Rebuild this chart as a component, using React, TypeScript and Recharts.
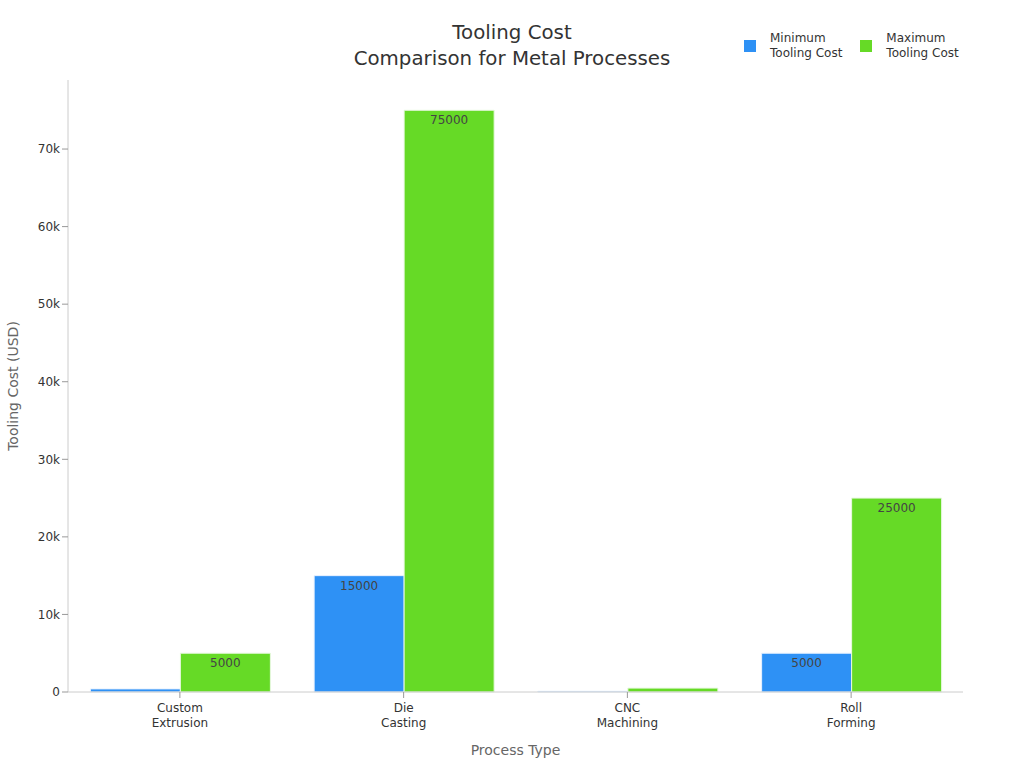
import { BarChart, Bar, XAxis, YAxis, LabelList } from 'recharts'

const processes = ['Custom\nExtrusion', 'Die\nCasting', 'CNC\nMachining', 'Roll\nForming']
const minCost = [400, 15000, 100, 5000]
const maxCost = [5000, 75000, 500, 25000]
const yTicks = [0, 10000, 20000, 30000, 40000, 50000, 60000, 70000]

const data = processes.map((p, i) => ({ process: p, min: minCost[i], max: maxCost[i] }))

const font = 'DejaVu Sans, sans-serif'

const CatTick = (props: any) => {
  const { x, y, payload } = props
  const lines = String(payload.value).split('\n')
  return (
    <g transform={`translate(${x},${y})`}>
      {lines.map((l, i) => (
        <text key={i} x={0} y={12 + i * 15} textAnchor="middle" fill="#333" fontSize={12} fontFamily={font}>
          {l}
        </text>
      ))}
    </g>
  )
}

const BarLabel = (props: any) => {
  const { x, y, width, height, value } = props
  if (height < 14) return null
  return (
    <text x={x + width / 2} y={y + 14} textAnchor="middle" fill="#444" fontSize={12} fontFamily={font}>
      {value}
    </text>
  )
}

const fmtK = (v: number) => (v === 0 ? '0' : `${v / 1000}k`)

export default function App() {
  return (
    <div style={{ position: 'absolute', left: 0, top: 0, width: 1024, height: 768, fontFamily: font }}>
      <div
        style={{
          position: 'absolute',
          top: 20,
          left: 0,
          width: 1024,
          textAlign: 'center',
          fontSize: 19.8,
          lineHeight: '26px',
          color: '#333',
        }}
      >
        Tooling Cost
        <br />
        Comparison for Metal Processes
      </div>
      <div style={{ position: 'absolute', top: 31, left: 744, display: 'flex', fontSize: 12, color: '#333', lineHeight: '15px' }}>
        <div style={{ display: 'flex', alignItems: 'center', marginRight: 18 }}>
          <span style={{ width: 12, height: 12, background: '#2E91F5', marginRight: 14, display: 'inline-block' }} />
          <span>
            Minimum
            <br />
            Tooling Cost
          </span>
        </div>
        <div style={{ display: 'flex', alignItems: 'center' }}>
          <span style={{ width: 12, height: 12, background: '#66DA26', marginRight: 14, display: 'inline-block' }} />
          <span>
            Maximum
            <br />
            Tooling Cost
          </span>
        </div>
      </div>
      <BarChart
        width={1024}
        height={768}
        data={data}
        margin={{ top: 80, right: 61, left: 0, bottom: 26 }}
        barCategoryGap="10%"
        barGap={0}
      >
        <XAxis
          dataKey="process"
          height={50}
          tick={<CatTick />}
          axisLine={{ stroke: '#ccc' }}
          tickLine={{ stroke: '#999' }}
          tickSize={6}
          interval={0}
          label={{ value: 'Process Type', position: 'insideBottom', offset: -13, fill: '#666', fontSize: 14, fontFamily: font }}
        />
        <YAxis
          width={68}
          domain={[0, 78900]}
          ticks={yTicks}
          tickFormatter={fmtK}
          tick={{ fill: '#333', fontSize: 12, fontFamily: font }}
          axisLine={{ stroke: '#ccc' }}
          tickLine={{ stroke: '#999' }}
          tickSize={6}
          label={{
            value: 'Tooling Cost (USD)',
            angle: -90,
            position: 'insideLeft',
            offset: 13,
            style: { textAnchor: 'middle' },
            fill: '#666',
            fontSize: 14,
            fontFamily: font,
          }}
        />
        <Bar dataKey="min" fill="#2E91F5" stroke="#e8f2ff" strokeWidth={1} isAnimationActive={false}>
          <LabelList dataKey="min" content={<BarLabel />} />
        </Bar>
        <Bar dataKey="max" fill="#66DA26" stroke="#e8f8e0" strokeWidth={1} isAnimationActive={false}>
          <LabelList dataKey="max" content={<BarLabel />} />
        </Bar>
      </BarChart>
    </div>
  )
}
